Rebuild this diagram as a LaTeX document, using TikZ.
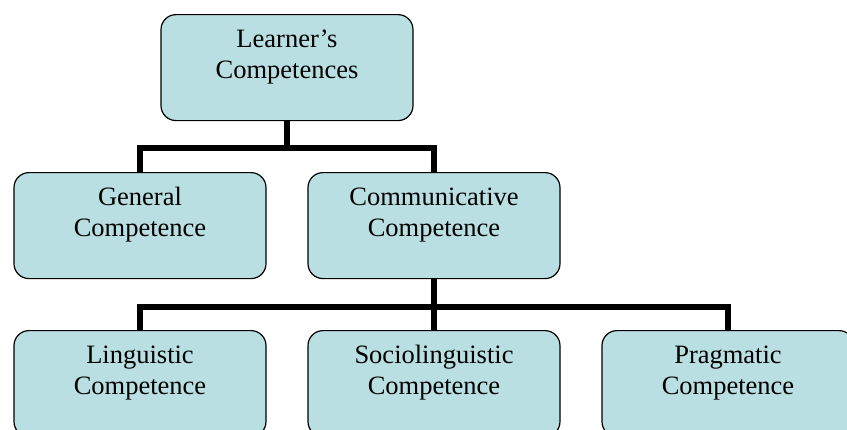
\documentclass[tikz,border=0pt]{standalone}
\usepackage{fontspec}
\setmainfont{Liberation Serif}
\definecolor{boxfill}{RGB}{185,223,226}
\begin{document}
\begin{tikzpicture}[x=1pt,y=-1pt,
  cbox/.style={draw=black, line width=1.2pt, fill=boxfill, rounded corners=15pt,
    inner sep=0pt, anchor=north, minimum width=252pt, minimum height=106pt},
  conn/.style={draw=black, line width=6.5pt, line join=miter}]
\useasboundingbox (0,0) rectangle (847,429);
\newcommand{\boxtext}[2]{\parbox[t][106pt][t]{252pt}{\centering\fontsize{26.5pt}{31pt}\selectfont\rule{0pt}{32.5pt}#1\\#2}}
\coordinate (bus1) at (0,148);
\coordinate (bus2) at (0,307);
% node positions
\path
  (287,14)  coordinate (ptop)
  (140,172) coordinate (pgen)
  (434,172) coordinate (pcomm)
  (140,330) coordinate (pling)
  (434,330) coordinate (psoc)
  (728,330) coordinate (pprag);
% connectors (drawn first, boxes cover ends)
\path (ptop) node[cbox, draw=none, fill=none] (top) {\phantom{x}};
\path (pgen) node[cbox, draw=none, fill=none] (gen) {\phantom{x}};
\path (pcomm) node[cbox, draw=none, fill=none] (comm) {\phantom{x}};
\path (pling) node[cbox, draw=none, fill=none] (ling) {\phantom{x}};
\path (psoc) node[cbox, draw=none, fill=none] (soc) {\phantom{x}};
\path (pprag) node[cbox, draw=none, fill=none] (prag) {\phantom{x}};
\draw[conn] (top.south) -- (top.south |- bus1);
\draw[conn] (gen.north) -- (gen.north |- bus1) -| (comm.north);
\draw[conn] (comm.south) -- (comm.south |- bus2);
\draw[conn] (ling.north) -- (ling.north |- bus2) -| (prag.north);
\draw[conn] (soc.north) -- (soc.north |- bus2);
% boxes
\node[cbox] (topbox) at (ptop) {\boxtext{Learner’s}{Competences}};
\node[cbox] (genbox) at (pgen) {\boxtext{General}{Competence}};
\node[cbox] (commbox) at (pcomm) {\boxtext{Communicative}{Competence}};
\node[cbox] (lingbox) at (pling) {\boxtext{Linguistic}{Competence}};
\node[cbox] (socbox) at (psoc) {\boxtext{Sociolinguistic}{Competence}};
\node[cbox] (pragbox) at (pprag) {\boxtext{Pragmatic}{Competence}};
\end{tikzpicture}
\end{document}
